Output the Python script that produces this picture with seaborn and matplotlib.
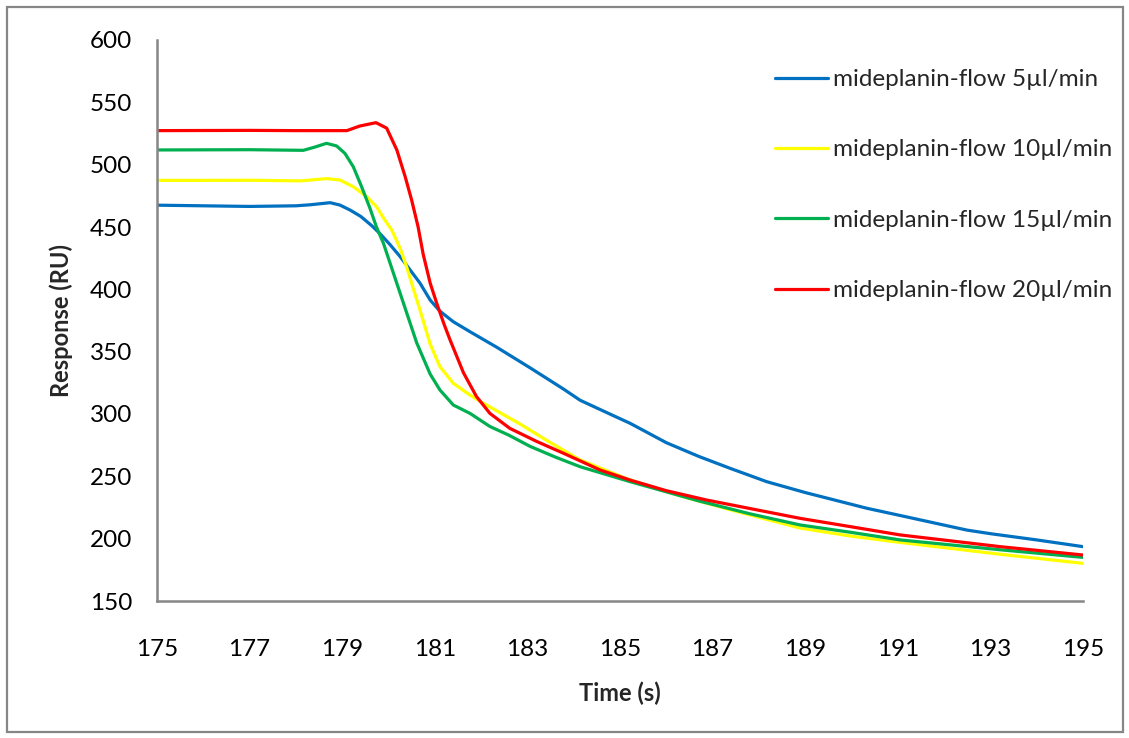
import matplotlib
matplotlib.use("Agg")
import matplotlib.pyplot as plt
import seaborn as sns
import pandas as pd
from matplotlib.patches import Rectangle

# ---- data ----
series_names = ["mideplanin-flow 5µl/min", "mideplanin-flow 10µl/min",
                "mideplanin-flow 15µl/min", "mideplanin-flow 20µl/min"]
colors = ["#0070C0", "#FFFF00", "#00B050", "#FF0000"]

t_5 = [175, 176, 177, 178, 178.3, 178.74, 178.95, 179.17, 179.4, 179.64, 179.82, 180.03,
       180.25, 180.68, 180.9, 181.11, 181.4, 181.76, 182.34, 183.06, 183.78, 184.14,
       184.78, 185.22, 186.0, 186.7, 187.38, 188.17, 189, 190.33, 191, 192.49, 193,
       194, 195]
r_5 = [467.5, 467.0, 466.5, 467.0, 467.8, 469.5, 467.6, 463.6, 458.5, 451, 444.5, 436,
       426.3, 405, 391.4, 382.5, 374, 366, 353.5, 337, 320, 311,
       300, 292.5, 277, 266, 256.4, 245.7, 237, 224.4, 219, 206.9, 204,
       199, 193.6]

t_10 = [175, 176, 177, 178.1, 178.66, 178.95, 179.24, 179.53, 179.74, 179.92, 180.07,
        180.25, 180.39, 180.54, 180.68, 180.9, 181.11, 181.4, 181.76, 182.05, 182.84,
        183.06, 183.5, 184.14, 185.22, 186.37, 187.5, 188.89, 190, 191.05, 193.21, 195]
r_10 = [487.4, 487.4, 487.5, 487.0, 488.8, 487.7, 482.3, 474.3, 466.3, 455.6, 447.6,
        433, 418.2, 400, 383.5, 356, 338, 324.6, 315.2, 308.6, 292,
        287, 277, 263.1, 247, 233.6, 222, 208.5, 202, 197, 187.5, 180.2]

t_15 = [175, 176, 177, 178.16, 178.4, 178.66, 178.88, 179.06, 179.24, 179.42, 179.6,
        179.74, 179.89, 180.07, 180.25, 180.43, 180.61, 180.9, 181.11, 181.4, 181.76,
        182.19, 182.6, 183.06, 183.6, 184.14, 185.22, 186.15, 186.73, 187.8, 188.89,
        190, 191.05, 193.21, 195]
r_15 = [511.8, 511.9, 512, 511.5, 514, 517.1, 515, 509, 498.3, 482.2, 465,
        450, 437, 417, 397, 377, 357, 332, 319.3, 307.2, 300.5,
        290, 283, 274, 265.5, 257.7, 245.7, 236, 230, 220, 211,
        205, 199, 191.1, 185]

t_20 = [175, 176, 177, 178, 179.1, 179.38, 179.73, 179.96, 180.18, 180.36, 180.5, 180.64,
        180.75, 180.9, 181.04, 181.2, 181.33, 181.62, 181.9, 182.19, 182.62, 183.2,
        183.78, 184.57, 185.22, 186.0, 186.87, 188.89, 190, 191.05, 193.21, 195]
r_20 = [527.3, 527.4, 527.5, 527.3, 527.3, 531, 533.7, 529.3, 511.8, 490.4, 471.6, 450,
        428, 405, 389, 372, 359.4, 333, 314, 300.5, 288.5, 278,
        268.5, 255.1, 247, 238.5, 231, 216.3, 209.5, 203, 193.6, 186.9]

x_ticks = list(range(175, 196, 2))
y_ticks = list(range(150, 601, 50))

# ---- build long-form table ----
frames = []
for name, t, r in zip(series_names, [t_5, t_10, t_15, t_20], [r_5, r_10, r_15, r_20]):
    frames.append(pd.DataFrame({"Time (s)": t, "Response (RU)": r, "series": name}))
df = pd.concat(frames, ignore_index=True)

sns.set_style("white")
plt.rcParams["font.family"] = ["Lato", "DejaVu Sans"]

fig = plt.figure(figsize=(11.29, 7.38), dpi=100)
ax = fig.add_axes([157 / 1129, 1 - 601 / 738, (1083 - 157) / 1129, (601 - 40) / 738])

sns.lineplot(data=df, x="Time (s)", y="Response (RU)", hue="series",
             hue_order=series_names, palette=colors, sort=False, estimator=None,
             linewidth=2.3, ax=ax, legend=False)
for ln in ax.get_lines():
    ln.set_solid_joinstyle("round")
    ln.set_solid_capstyle("round")

grey = "#868686"
ax.set_xlim(175, 195)
ax.set_ylim(150, 600)
ax.set_xticks(x_ticks)
ax.set_yticks(y_ticks)
ax.tick_params(axis="both", direction="out", color=grey, width=1.5, length=6,
               labelsize=17.5, labelcolor="black")
ax.tick_params(axis="x", pad=21)
ax.tick_params(axis="y", pad=12)
for s in ["top", "right"]:
    ax.spines[s].set_visible(False)
for s in ["left", "bottom"]:
    ax.spines[s].set_color(grey)
    ax.spines[s].set_linewidth(1.8)
ax.grid(False)

ax.set_xlabel("Time (s)", fontsize=17, fontweight="bold", labelpad=16)
ax.set_ylabel("Response (RU)", fontsize=17, fontweight="bold", labelpad=12)

handles = ax.get_lines()[:4]
leg = ax.legend(handles, series_names, loc="upper left",
                bbox_to_anchor=((775 - 157) / 926, (601 - 69) / 561),
                frameon=False, fontsize=17.5, handlelength=2.18, handletextpad=0.2,
                labelspacing=2.03, borderpad=0, borderaxespad=0)
for h in leg.get_lines():
    h.set_linewidth(2.3)

fig.patches.append(Rectangle((7 / 1129, 1 - 732 / 738), (1123 - 7) / 1129, (732 - 7) / 738,
                             transform=fig.transFigure, fill=False,
                             edgecolor=grey, linewidth=1.6))

fig.savefig("out.png", dpi=100)
